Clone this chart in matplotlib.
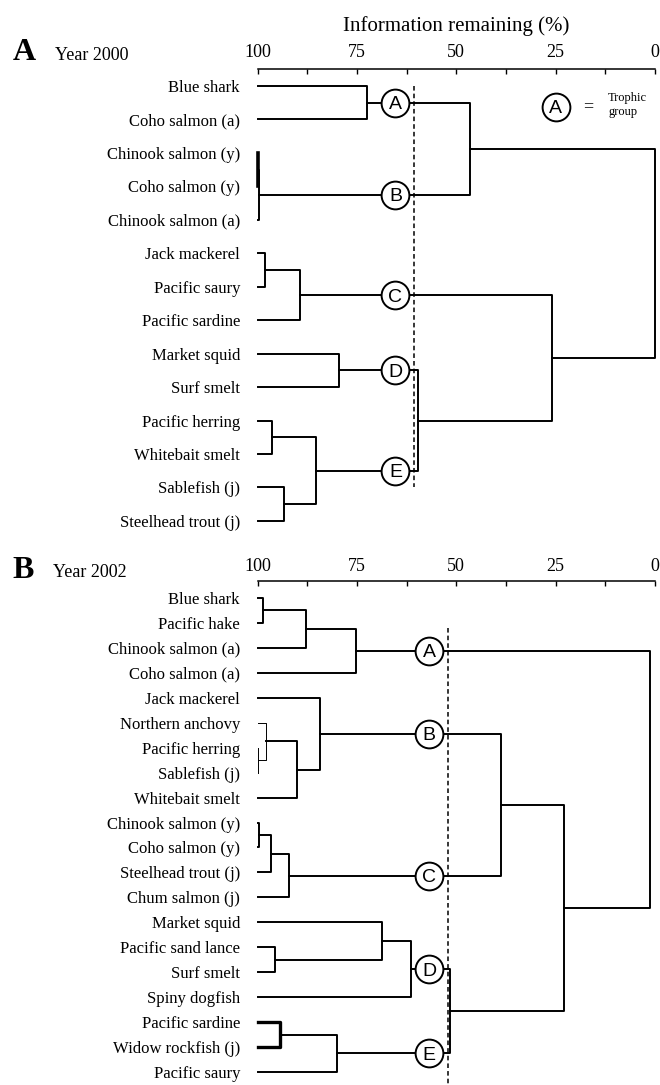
import matplotlib.pyplot as plt

plt.rcParams['font.family'] = ['Liberation Serif', 'DejaVu Serif']

# Year 2000 dendrogram (leaves top to bottom, merges as (node, node, % remaining))
leaves_2000 = ['Blue shark', 'Coho salmon (a)', 'Chinook salmon (y)', 'Coho salmon (y)',
               'Chinook salmon (a)', 'Jack mackerel', 'Pacific saury', 'Pacific sardine',
               'Market squid', 'Surf smelt', 'Pacific herring', 'Whitebait smelt',
               'Sablefish (j)', 'Steelhead trout (j)']
merges_2000 = [(0, 1, 72.5), (2, 3, 99.8), (15, 4, 99.5), (14, 16, 46.6),
               (5, 6, 98.1), (18, 7, 89.4), (8, 9, 79.6), (10, 11, 96.3),
               (12, 13, 93.4), (21, 22, 85.2), (20, 23, 59.6), (19, 24, 25.9),
               (17, 25, 0.0)]
groups_2000 = {'A': 14, 'B': 16, 'C': 19, 'D': 20, 'E': 23}
cutoff_2000 = 60.6

# Year 2002 dendrogram
leaves_2002 = ['Blue shark', 'Pacific hake', 'Chinook salmon (a)', 'Coho salmon (a)',
               'Jack mackerel', 'Northern anchovy', 'Pacific herring', 'Sablefish (j)',
               'Whitebait smelt', 'Chinook salmon (y)', 'Coho salmon (y)',
               'Steelhead trout (j)', 'Chum salmon (j)', 'Market squid',
               'Pacific sand lance', 'Surf smelt', 'Spiny dogfish', 'Pacific sardine',
               'Widow rockfish (j)', 'Pacific saury']
merges_2002 = [(0, 1, 98.7), (20, 2, 87.7), (21, 3, 75.1), (6, 7, 99.8),
               (5, 23, 97.8), (24, 8, 90.0), (4, 25, 84.4), (9, 10, 99.5),
               (27, 11, 96.7), (28, 12, 92.1), (14, 15, 95.5), (13, 30, 68.8),
               (31, 16, 61.5), (17, 18, 94.3), (33, 19, 79.9), (32, 34, 51.5),
               (26, 29, 38.8), (36, 35, 22.8), (22, 37, 1.3)]
groups_2002 = {'A': 22, 'B': 26, 'C': 29, 'D': 32, 'E': 34}
cutoff_2002 = 52.0

W, H = 660, 1085


def draw_tree(ax, leaves, merges, widths):
    ys = list(range(len(leaves)))
    hs = [100.0] * len(leaves)
    n = len(leaves)
    for i, (a, b, h) in enumerate(merges):
        lw = widths.get(n + i, 1.4)
        ax.plot([hs[a], h, h, hs[b]], [ys[a], ys[a], ys[b], ys[b]],
                color='black', lw=lw, clip_on=False, zorder=2)
        ys.append((ys[a] + ys[b]) / 2)
        hs.append(h)
    return ys


def setup_axes(rect, leaves, ylim, tick_pad):
    ax = fig.add_axes(rect)
    ax.set_xlim(100, 0)
    ax.set_ylim(*ylim)
    for s in ['left', 'right', 'bottom']:
        ax.spines[s].set_visible(False)
    ax.spines['top'].set_linewidth(1.1)
    ax.xaxis.tick_top()
    ax.set_xticks([100, 75, 50, 25, 0])
    ax.set_xticklabels(['100', '75', '50', '25', '0'])
    ax.set_xticks([87.5, 62.5, 37.5, 12.5], minor=True)
    ax.tick_params(axis='x', which='both', direction='in', length=3.5, width=1,
                   labelsize=13, pad=tick_pad)
    ax.set_yticks(range(len(leaves)))
    ax.set_yticklabels(leaves, fontsize=12)
    ax.tick_params(axis='y', length=0, pad=12.6)
    return ax


def circled(ax, x, y, letter):
    ax.plot(x, y, 'o', ms=20, mfc='white', mec='black', mew=1.4,
            zorder=4, clip_on=False)
    ax.text(x, y, letter, ha='center', va='center_baseline', fontsize=14,
            family='Liberation Sans', zorder=5)


fig = plt.figure(figsize=(W / 100, H / 100), dpi=100)

# Panel A
axA = setup_axes([257.5 / W, 1 - 538 / H, 397.5 / W, 469 / H], leaves_2000,
                 (13.51, -0.508), 6)
axA.set_xlabel('Information remaining (%)', fontsize=15, labelpad=9)
axA.xaxis.set_label_position('top')
ysA = draw_tree(axA, leaves_2000, merges_2000, {15: 2.6})
for letter, node in groups_2000.items():
    circled(axA, 65.3, ysA[node], letter)
axA.plot([cutoff_2000, cutoff_2000], [0, 12.0], color='black', lw=1.1,
         linestyle=(0, (3, 2)), zorder=1)
circled(axA, 25, 0.62, 'A')
axA.text(16.9, 0.62, '=', ha='center', va='center', fontsize=13)
axA.text(11.8, 0.57, 'Trophic\ngroup', ha='left', va='center', fontsize=9,
         linespacing=1.3)

# Panel B
axB = setup_axes([257.5 / W, 0, 397.5 / W, 504 / H], leaves_2002,
                 (19.52, -0.68), 4.5)
ysB = draw_tree(axB, leaves_2002, merges_2002, {23: 0.7, 24: 0.7, 33: 2.4})
for letter, node in groups_2002.items():
    circled(axB, 56.8, ysB[node], letter)
axB.plot([cutoff_2002, cutoff_2002], [1.2, 19.52], color='black', lw=1.1,
         linestyle=(0, (3, 2)), zorder=1)

# panel letters
fig.text(12.7 / W, 1 - 60 / H, 'A', fontsize=23, fontweight='bold', va='baseline')
fig.text(55 / W, 1 - 60 / H, 'Year 2000', fontsize=13, va='baseline')
fig.text(12.7 / W, 1 - 578 / H, 'B', fontsize=23, fontweight='bold', va='baseline')
fig.text(53 / W, 1 - 577 / H, 'Year 2002', fontsize=13, va='baseline')

fig.savefig('out.png', dpi=100)
